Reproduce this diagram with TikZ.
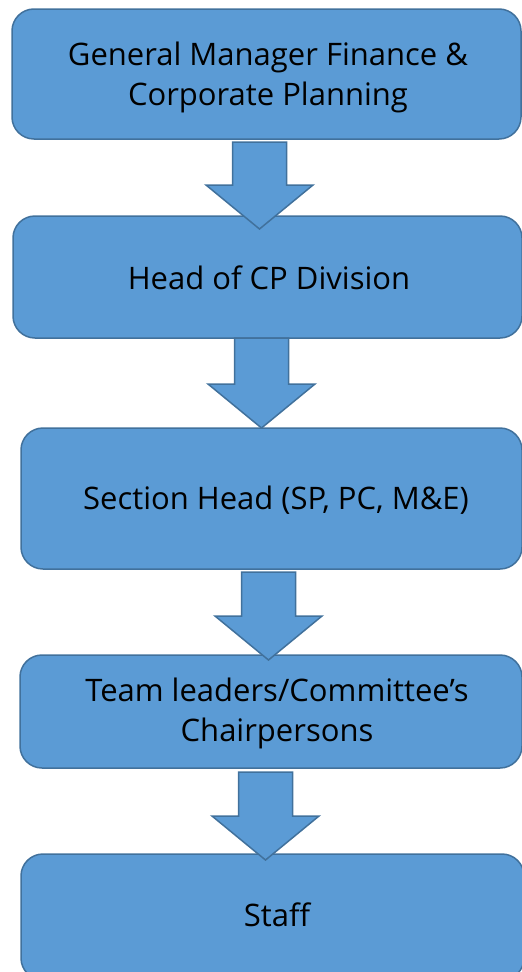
\documentclass[tikz,border=0pt]{standalone}
\usepackage{fontspec}
\setmainfont{Open Sans}
\definecolor{boxfill}{HTML}{5B9BD5}
\definecolor{boxline}{HTML}{41719C}
\begin{document}
\begin{tikzpicture}[x=1pt,y=-1pt,
  stage/.style={draw=boxline, fill=boxfill, line width=1.5pt, rounded corners=22pt,
    inner sep=0pt},
  label/.style={inner sep=0pt, align=center, font=\fontsize{31}{40}\selectfont, text=black},
  flowarrow/.style={draw=boxline, fill=boxfill, line width=1.5pt, line join=miter}]
\useasboundingbox (0,0) rectangle (522,972);

% hierarchy boxes
\node[stage, minimum width=509pt, minimum height=130pt] (gm) at (266.5,74) {};
\node[label] (gmt) at (268,77) {General Manager Finance \&\\Corporate Planning};
\node[stage, minimum width=509pt, minimum height=122pt] (head) at (267.5,277) {};
\node[label] (headt) at (269,278) {Head of CP Division};
\node[stage, minimum width=501pt, minimum height=141pt] (sect) at (271.5,498.5) {};
\node[label] (sectt) at (276,500) {Section Head (SP, PC, M\&E)};
\node[stage, minimum width=502pt, minimum height=113pt] (team) at (271,711.5) {};
\node[label] (teamt) at (277,713) {Team leaders/Committee’s\\Chairpersons};
\node[stage, minimum width=503pt, minimum height=126pt] (staff) at (272.5,917) {};
\node[label] (stafft) at (277,915) {Staff};

% block arrows between levels: shaft half width 27, head half width 53.5, head 44 long
\newcommand{\downblock}[3]{% x, top y, tip y
  \draw[flowarrow] (#1-27,#2) -- (#1+27,#2) -- (#1+27,#3-44) -- (#1+53.5,#3-44)
    -- (#1,#3) -- (#1-53.5,#3-44) -- (#1-27,#3-44) -- cycle;}
\downblock{259.5}{142}{229}
\downblock{261.5}{338}{428}
\downblock{268.5}{572}{660}
\downblock{265.5}{772}{860}
\end{tikzpicture}
\end{document}
